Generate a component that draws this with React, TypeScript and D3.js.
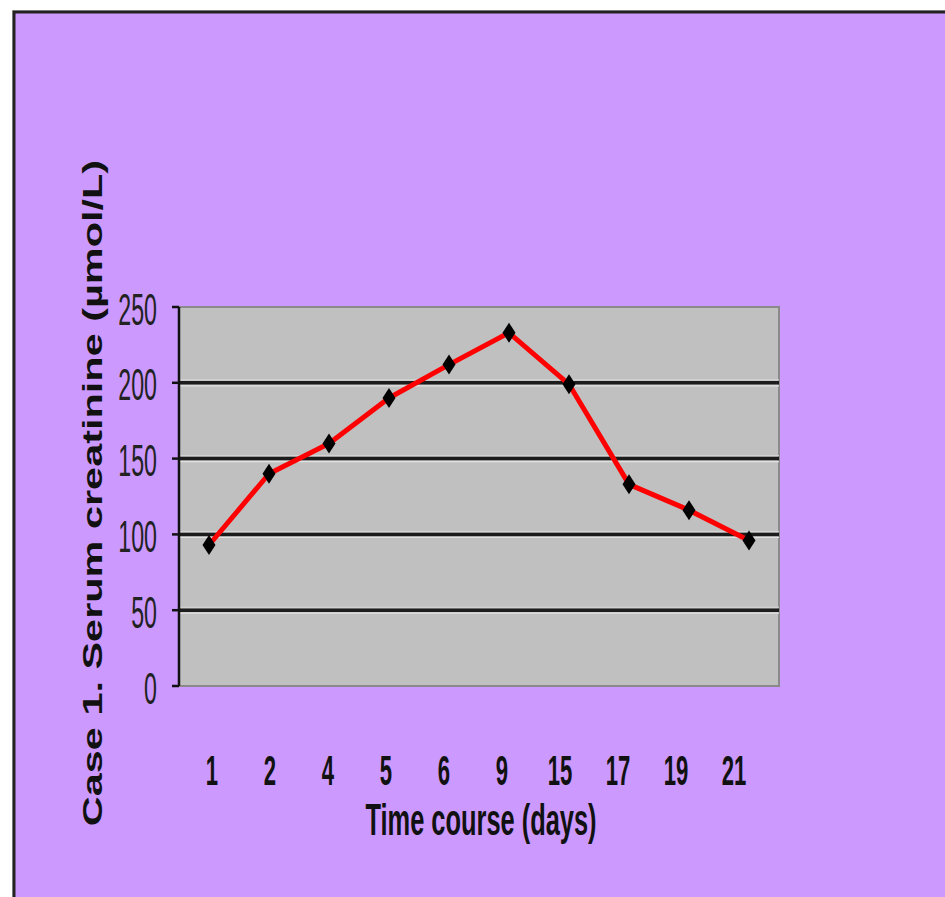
import React from "react";
import * as d3 from "d3";

// Serum creatinine over the course of the illness (case 1)
const days = ["1", "2", "4", "5", "6", "9", "15", "17", "19", "21"];
const creatinine = [93, 140, 160, 190, 212, 233, 199, 133, 116, 96];
const yTicks = [0, 50, 100, 150, 200, 250];

const yTitle = "Case 1. Serum creatinine (\u00b5mol/L)";
const xTitle = "Time course (days)";

const W = 945;
const H = 897;
const plot = { left: 179, right: 779, top: 307, bottom: 686 };
const FONT = "'Liberation Sans', Arial, sans-serif";

export default function App() {
  const x = d3
    .scaleBand<string>()
    .domain(days)
    .range([plot.left, plot.right]);
  const cx = (d: string) => (x(d) as number) + x.bandwidth() / 2;
  const y = d3.scaleLinear().domain([0, 250]).range([plot.bottom, plot.top]);

  // day labels are set as a row of their own beneath the plot
  const labelX = d3.scalePoint<string>().domain(days).range([212, 734]);

  const points = days.map((d, i) => ({ d, v: creatinine[i] }));
  const line = d3
    .line<{ d: string; v: number }>()
    .x((p) => cx(p.d))
    .y((p) => y(p.v));

  const diamond = "M0,-10 L6.5,0 L0,10 L-6.5,0 Z";

  return (
    <svg
      width={W}
      height={H}
      style={{ position: "absolute", left: 0, top: 0, display: "block" }}
    >
      <rect x={0} y={0} width={W} height={H} fill="#ffffff" />
      {/* slide frame */}
      <rect x={12} y={10} width={W} height={H} fill="#9a9a9a" opacity={0.5} />
      <rect x={14} y={12} width={W} height={H} fill="#cc99ff" stroke="#222" strokeWidth={3} />

      {/* plot area */}
      <rect
        x={plot.left}
        y={plot.top}
        width={plot.right - plot.left}
        height={plot.bottom - plot.top}
        fill="#c0c0c0"
        stroke="#8a8a8a"
        strokeWidth={2}
      />
      {yTicks
        .filter((t) => t > 0 && t < 250)
        .map((t) => (
          <g key={t}>
            <line
              x1={plot.left}
              x2={plot.right}
              y1={y(t)}
              y2={y(t)}
              stroke="#1c1c1c"
              strokeWidth={3.5}
            />
            <line
              x1={plot.left}
              x2={plot.right}
              y1={y(t) + 3}
              y2={y(t) + 3}
              stroke="#e2e2e2"
              strokeWidth={1.2}
            />
            <line
              x1={plot.left}
              x2={plot.right}
              y1={y(t) - 3}
              y2={y(t) - 3}
              stroke="#d6d6d6"
              strokeWidth={1}
            />
          </g>
        ))}

      {/* y axis */}
      <line
        x1={plot.left}
        x2={plot.left}
        y1={plot.top}
        y2={plot.bottom}
        stroke="#111"
        strokeWidth={2.5}
      />
      {yTicks.map((t) => (
        <g key={t}>
          <line
            x1={plot.left - 7}
            x2={plot.left}
            y1={y(t)}
            y2={y(t)}
            stroke="#111"
            strokeWidth={2.5}
          />
          <text
            transform={`translate(157,${y(t) + 2}) scale(0.8,1.5)`}
            textAnchor="end"
            dominantBaseline="central"
            fontFamily={FONT}
            fontSize={29}
            fill="#222"
          >
            {t}
          </text>
        </g>
      ))}

      {/* series */}
      <path
        d={line(points) as string}
        fill="none"
        stroke="#ff0000"
        strokeWidth={5}
        strokeLinejoin="round"
        strokeLinecap="round"
      />
      {points.map((p) => (
        <path
          key={p.d}
          d={diamond}
          transform={`translate(${cx(p.d)},${y(p.v)})`}
          fill="#000"
        />
      ))}

      {/* day labels */}
      {days.map((d) => (
        <text
          key={d}
          transform={`translate(${labelX(d)},785) scale(0.82,1.6)`}
          textAnchor="middle"
          fontFamily={FONT}
          fontWeight="bold"
          fontSize={27}
          fill="#111"
        >
          {d}
        </text>
      ))}

      {/* axis titles */}
      <text
        transform="translate(481,835) scale(0.82,1.45)"
        textAnchor="middle"
        fontFamily={FONT}
        fontWeight="bold"
        fontSize={31}
        fill="#111"
      >
        {xTitle}
      </text>
      <text
        transform="translate(92,493) rotate(-90) scale(1.48,1)"
        textAnchor="middle"
        dominantBaseline="central"
        fontFamily={FONT}
        fontWeight="bold"
        fontSize={28}
        fill="#111"
      >
        {yTitle}
      </text>
    </svg>
  );
}
